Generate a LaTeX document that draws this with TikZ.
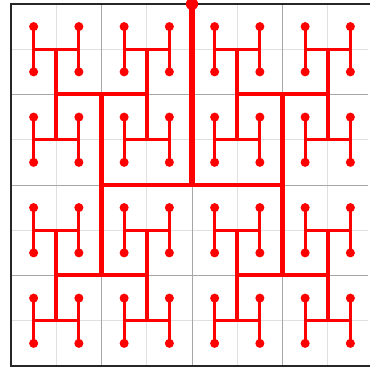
\documentclass[tikz,border=0pt]{standalone}
\usepackage{xcolor}
\usepackage{tikz}

\begin{document}
\begin{tikzpicture}[
  x=1cm, y=1cm,
  minorgrid/.style={draw=black!12, line width=0.5pt},
  majorgrid/.style={draw=black!35, line width=0.6pt},
  frame/.style={draw=black!85, line width=0.8pt},
  branch/.style={draw=red, line width=#1},
  leaf/.style={fill=red},
]
\useasboundingbox (-0.243,-0.177) rectangle (7.912,8.088);

\draw[minorgrid] (0,0) grid[step=1] (7.9,8);
\draw[majorgrid] (0,0) grid[step=2] (7.9,8);
% right side of the box is cut off
\draw[frame] (7.95,8)--(0,8)--(0,0)--(7.95,0);

% trunk and first split
\draw[branch=3.7pt] (4,8)--(4,4);
\draw[branch=3.1pt] (2,4)--(6,4);
\foreach \x in {2,6}
  \draw[branch=2.6pt] (\x,2)--(\x,6);
\foreach \x in {2,6}
  \foreach \y in {2,6}
    \draw[branch=2.5pt] (\x-1,\y)--(\x+1,\y);
\foreach \x in {1,3,5,7}
  \foreach \y in {2,6}
    \draw[branch=2.3pt] (\x,\y-1)--(\x,\y+1);
\foreach \x in {1,3,5,7}
  \foreach \y in {1,3,5,7}
    \draw[branch=2pt] (\x-0.5,\y)--(\x+0.5,\y);
\foreach \x in {0.5,1.5,...,7.5}
  \foreach \y in {1,3,5,7}
    \draw[branch=2pt] (\x,\y-0.5)--(\x,\y+0.5);

% end points
\foreach \x in {0.5,1.5,...,7.5}
  \foreach \y in {0.5,1.5,...,7.5}
    \fill[leaf] (\x,\y) circle (0.1);
\fill[leaf] (4,8) circle (0.135);
\end{tikzpicture}
\end{document}
